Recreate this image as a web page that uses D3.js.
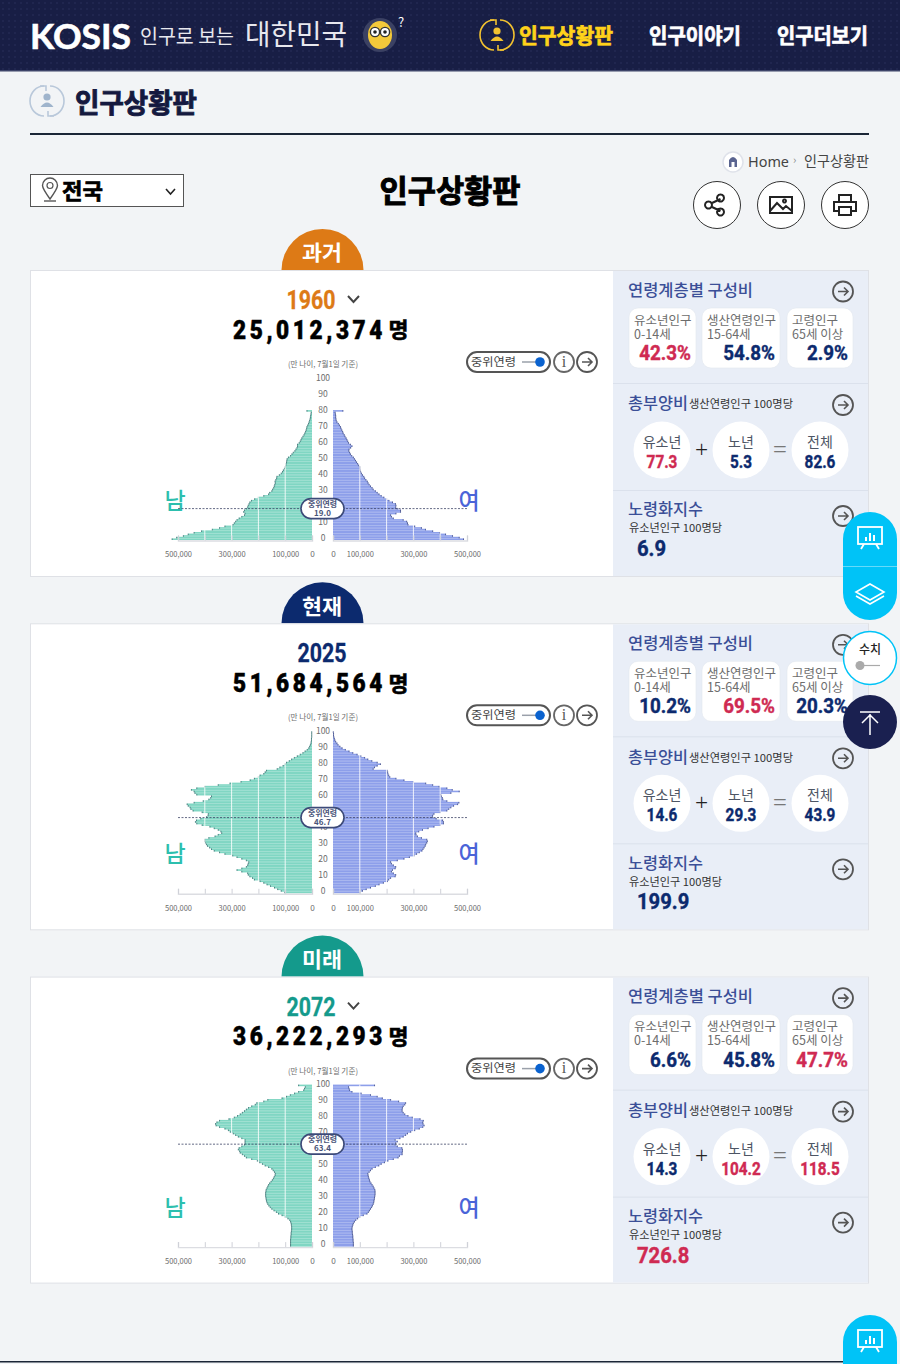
<!DOCTYPE html>
<html>
<head>
<meta charset="utf-8">
<script src="https://cdn.jsdelivr.net/npm/d3@7"></script>
<style>
  html, body { margin: 0; padding: 0; background: #f2f4f6; }
  svg { display: block; font-family: 'Noto Sans CJK KR', 'Noto Sans', sans-serif; }
</style>
</head>
<body>
<svg id="page" width="900" height="1364"></svg>
<script>
// values
const eras = ['과거', '현재', '미래']
const years = ['1960', '2025', '2072']
const totals = ['25,012,374', '51,684,564', '36,222,293']
const medianAges = [19.0, 46.7, 63.4]
const ageBands = ['유소년인구', '생산연령인구', '고령인구']
const ageRanges = ['0-14세', '15-64세', '65세 이상']
const bandShares = [[42.3, 54.8, 2.9], [10.2, 69.5, 20.3], [6.6, 45.8, 47.7]]
const bandAlerts = [[true, false, false], [false, true, false], [false, false, true]]
const depLabels = ['유소년', '노년', '전체']
const depRatios = [[77.3, 5.3, 82.6], [14.6, 29.3, 43.9], [14.3, 104.2, 118.5]]
const depAlerts = [[true, false, false], [false, false, false], [false, true, true]]
const agingIndex = [6.9, 199.9, 726.8]
const agingAlerts = [false, false, true]
const ageTicks = [0, 10, 20, 30, 40, 50, 60, 70, 80, 90, 100]
const popTicks = [0, 100000, 200000, 300000, 400000, 500000]
const popLabels = [0, 100000, 300000, 500000]

// population by single year of age, in thousands
const male1960 = [522,505,480,462,440,412,372,345,325,295,290,285,280,272,262,252,250,255,252,245,240,238,235,232,226,214,200,180,162,158,150,147,143,141,139,137,138,135,132,131,122,115,110,107,103,100,98,97,95,94,93,88,80,75,70,64,60,56,54,54,48,44,41,38,34,30,27,24,22,20,19,16,13,11,9,7,6,5,4,3,19]
const female1960 = [487,471,446,420,398,372,345,330,305,280,278,275,262,225,218,215,235,252,252,240,234,235,233,222,209,200,190,180,172,165,158,150,146,140,135,131,128,123,118,115,110,106,103,101,100,100,96,92,88,84,80,76,70,65,62,59,60,66,71,65,58,55,52,49,45,42,38,36,33,30,28,24,20,15,12,11,10,10,9,8,37]
const male2025 = [102,115,128,140,155,168,180,194,215,222,232,238,240,262,280,262,245,240,238,236,245,262,280,296,325,345,365,375,382,390,394,398,400,400,385,362,350,337,340,350,365,381,410,430,435,431,415,394,388,387,410,444,452,455,462,466,440,406,385,378,375,430,437,440,450,430,400,350,306,265,231,215,200,194,180,175,170,130,120,108,100,95,85,76,66,55,44,34,26,18,12,9,6,4,3,2,2,1,1,1,1]
const female2025 = [100,110,124,140,158,172,188,203,208,215,232,234,225,218,222,232,234,225,218,215,240,265,285,302,312,322,332,336,340,344,346,350,352,350,330,315,310,309,320,334,355,377,400,412,412,409,385,371,372,377,400,425,432,440,450,465,470,425,410,408,404,402,440,471,445,425,396,372,346,300,265,235,212,208,205,204,202,150,155,165,177,165,145,130,118,104,90,74,60,46,34,26,19,15,10,7,5,3,2,2,1]
const male2072 = [80,80,80,80,80,79,79,78,78,77,76,76,76,77,78,80,83,90,100,112,125,133,142,150,156,161,165,168,170,171,172,173,173,173,172,171,168,165,162,158,153,148,144,141,138,137,140,145,150,162,175,185,195,204,225,245,252,260,268,270,275,272,262,252,250,250,250,262,275,285,294,305,312,325,345,358,360,355,345,310,290,278,268,260,252,245,237,225,212,206,180,165,112,95,81,65,50,31,28,25,50]
const female2072 = [76,76,76,75,75,74,74,73,72,72,71,71,72,74,76,80,85,92,100,113,127,132,136,140,144,147,150,152,153,154,155,156,157,157,157,156,153,150,146,142,138,136,134,132,131,130,135,140,146,158,171,180,192,205,225,243,248,258,258,259,259,257,240,232,234,240,232,250,262,271,278,290,305,322,335,340,336,335,337,325,296,280,268,262,258,258,259,262,268,271,245,215,184,165,140,105,71,62,60,58,155]
const maleSeries = [male1960, male2025, male2072]
const femaleSeries = [female1960, female2025, female2072]

const eraColors = ['#dd7a16', '#0c2a6e', '#149a8c']
const navy = '#0c2a6e', red = '#cf2a52', titleBlue = '#3b4f97', gray = '#6d6d6d'
const kr = "'Noto Sans CJK KR', sans-serif"
const digits = "'Roboto', 'Liberation Sans', sans-serif"

const svg = d3.select('#page')

// helper: real text, optionally squeezed to a measured width
function label(g, x, y, text, o = {}) {
  const size = o.size || 12
  const t = g
    .append('text')
    .attr('x', x)
    .attr('y', y + size * 0.12)
    .attr('fill', o.fill || '#222')
    .attr('font-size', size)
    .attr('font-weight', o.weight || 400)
    .attr('font-family', o.font || kr)
    .attr('text-anchor', o.anchor || 'start')
    .attr('dominant-baseline', 'middle')
    .text(text)
  if (o.spacing) t.attr('letter-spacing', o.spacing)
  if (o.fat) t.attr('stroke', o.fill || '#222').attr('stroke-width', o.fat)
  if (o.width) t.attr('textLength', o.width).attr('lengthAdjust', 'spacingAndGlyphs')
  if (o.squeeze) t.attr('textLength', t.node().getComputedTextLength() * o.squeeze).attr('lengthAdjust', 'spacingAndGlyphs')
  return t
}

function arrowButton(g, cx, cy, r = 10) {
  const b = g.append('g').attr('transform', `translate(${cx},${cy})`)
  b.append('circle').attr('r', r).attr('fill', 'none').attr('stroke', '#555').attr('stroke-width', 1.8)
  b.append('path')
    .attr('d', 'M-5,0H5M1,-4L5,0L1,4')
    .attr('fill', 'none')
    .attr('stroke', '#555')
    .attr('stroke-width', 1.6)
}

// --------------------------------------------------------------
// Header
svg.append('rect').attr('width', 900).attr('height', 1364).attr('fill', '#f2f4f6')
svg.append('rect').attr('width', 900).attr('height', 71).attr('fill', '#181e45')
const dots = svg.append('defs').append('pattern').attr('id', 'headDots').attr('width', 6).attr('height', 6).attr('patternUnits', 'userSpaceOnUse')
dots.append('circle').attr('cx', 3).attr('cy', 3).attr('r', 0.7).attr('fill', '#2d3461')
svg.append('rect').attr('width', 900).attr('height', 70).attr('fill', 'url(#headDots)')
svg.append('rect').attr('y', 70).attr('width', 900).attr('height', 1.5).attr('fill', '#3d4468')

label(svg, 30, 36, 'KOSIS', { size: 35, weight: 700, fill: '#fff', font: 'Lato, sans-serif', width: 101, fat: 0.6 })
label(svg, 140, 36, '인구로 보는', { size: 20, fill: '#e8e8ee', width: 94 })
label(svg, 245, 34, '대한민국', { size: 28, fill: '#e8e8ee', width: 102 })

const owl = svg.append('g').attr('transform', 'translate(380,35)')
owl.append('circle').attr('r', 17).attr('fill', '#3b4163')
owl.append('ellipse').attr('rx', 12).attr('ry', 14).attr('fill', '#f4c93a')
owl.selectAll('circle.eye').data([-5, 5]).join('circle').attr('class', 'eye')
  .attr('cx', (d) => d).attr('cy', -3).attr('r', 4.6).attr('fill', '#fff').attr('stroke', '#333').attr('stroke-width', 1.4)
owl.selectAll('circle.pupil').data([-5, 5]).join('circle').attr('class', 'pupil')
  .attr('cx', (d) => d).attr('cy', -3).attr('r', 1.8).attr('fill', '#222')
label(svg, 398, 22, '?', { size: 13, fill: '#fff' })

function personCycle(g, cx, cy, color, body) {
  const p = g.append('g').attr('transform', `translate(${cx},${cy})`)
  p.append('path').attr('d', 'M-3,-15A14,15 0 0,0 -3,15').attr('fill', 'none').attr('stroke', color).attr('stroke-width', 1.6)
  p.append('path').attr('d', 'M3,15A14,15 0 0,0 3,-15').attr('fill', 'none').attr('stroke', color).attr('stroke-width', 1.6)
  p.append('path').attr('d', 'M-7,-15H-1V-10M7,15H1V10').attr('fill', 'none').attr('stroke', color).attr('stroke-width', 1.6)
  p.append('circle').attr('cy', -4).attr('r', 3.6).attr('fill', body)
  p.append('path').attr('d', 'M-6.5,6Q0,-3 6.5,6Z').attr('fill', body)
}
personCycle(svg, 497, 35, '#f2c230', '#f2c230')
label(svg, 519, 35, '인구상황판', { size: 21, weight: 700, fill: '#ffd21a', width: 94, fat: 0.7 })
label(svg, 649, 35, '인구이야기', { size: 21, weight: 700, fill: '#fff', width: 92, fat: 0.7 })
label(svg, 777, 35, '인구더보기', { size: 21, weight: 700, fill: '#fff', width: 91, fat: 0.7 })

// --------------------------------------------------------------
// Page heading and tools
personCycle(svg, 47, 101, '#b9c8da', '#9fb4cc')
label(svg, 75, 102, '인구상황판', { size: 27, weight: 700, fill: '#14193f', width: 122, fat: 0.9 })
svg.append('rect').attr('x', 30).attr('y', 133).attr('width', 839).attr('height', 2).attr('fill', '#1b2636')

svg.append('circle').attr('cx', 733).attr('cy', 162).attr('r', 10).attr('fill', '#fff').attr('stroke', '#dfe2ea').attr('stroke-width', 1.5)
svg.append('path').attr('d', 'M729,167V160Q733,154 737,160V167H734.5V162H731.5V167Z').attr('fill', '#5a6490')
label(svg, 748, 161, 'Home', { size: 14.5, fill: '#444', font: "'Noto Sans', sans-serif", width: 41 })
label(svg, 793, 160, '›', { size: 11, fill: '#888' })
label(svg, 804, 161, '인구상황판', { size: 14, fill: '#444', width: 65 })

svg.append('rect').attr('x', 30.5).attr('y', 174.5).attr('width', 153).attr('height', 32).attr('fill', '#fff').attr('stroke', '#555')
svg.append('path').attr('d', 'M50,199C45,192 42.5,188 42.5,185.5A7.5,7.5 0 0,1 57.5,185.5C57.5,188 55,192 50,199Z').attr('fill', 'none').attr('stroke', '#555').attr('stroke-width', 1.4)
svg.append('circle').attr('cx', 50).attr('cy', 185.5).attr('r', 3).attr('fill', 'none').attr('stroke', '#555').attr('stroke-width', 1.2)
svg.append('path').attr('d', 'M44,201H56').attr('stroke', '#555').attr('stroke-width', 1.4)
label(svg, 62, 190, '전국', { size: 22, weight: 700, fill: '#000', width: 41, fat: 0.7 })
svg.append('path').attr('d', 'M166,189L170.5,194L175,189').attr('fill', 'none').attr('stroke', '#222').attr('stroke-width', 1.6)

label(svg, 450, 190, '인구상황판', { size: 31, weight: 700, fill: '#000', anchor: 'middle', width: 141, fat: 1 })

const toolIcons = [
  'M-5,0A3.5,3.5 0 1,0 -5,0.01M7,-7A3.5,3.5 0 1,0 7,-6.99M7,7A3.5,3.5 0 1,0 7,7.01M-5,-2L3.5,-6M-5,2L3.5,6',
  'M-11,-8H11V8H-11ZM-11,6L-4,-2L2,4L5,1L11,6M5,-4A1.5,1.5 0 1,0 5,-3.99',
  'M-6,-3V-10H6V-3M-6,6H-11V-3H11V6H6M-6,2H6V10H-6Z',
]
svg.append('g').selectAll('g').data(toolIcons).join('g')
  .attr('transform', (d, i) => `translate(${717 + i * 64},205)`)
  .call((g) => g.append('circle').attr('r', 23.5).attr('fill', '#fff').attr('stroke', '#333'))
  .call((g) => g.append('path').attr('d', (d) => d).attr('fill', 'none').attr('stroke', '#222').attr('stroke-width', 2))

// --------------------------------------------------------------
// One panel: population pyramid on the left, indicators on the right
const maleX = d3.scaleLinear().domain([0, 500000]).range([312, 178])
const femaleX = d3.scaleLinear().domain([0, 500000]).range([333, 467])
const ageY = d3.scaleBand().domain(d3.range(0, 101)).range([270, 108]) // panel coordinates
const ageTickY = d3.scaleLinear().domain([0, 100]).range([267.5, 107.5])

function pyramidSide(g, series, x, fill, edge, isMale) {
  const rows = series.map((v, age) => ({ age, pop: v * 1000 }))
  const y0 = x(0)
  g.append('g').selectAll('rect').data(rows).join('rect')
    .attr('x', (d) => (isMale ? x(d.pop) : y0))
    .attr('y', (d) => ageY(d.age))
    .attr('width', (d) => Math.abs(x(d.pop) - y0))
    .attr('height', ageY.bandwidth())
    .attr('fill', fill)
  // dark cap at the end of each bar
  g.append('g').selectAll('rect').data(rows).join('rect')
    .attr('x', (d) => x(d.pop) - 0.5)
    .attr('y', (d) => ageY(d.age))
    .attr('width', 1)
    .attr('height', ageY.bandwidth())
    .attr('fill', edge)
    .attr('opacity', 0.75)
  // white grid over the bars
  g.append('g').selectAll('line').data(popTicks.slice(1, 5)).join('line')
    .attr('x1', x).attr('x2', x).attr('y1', ageY(100)).attr('y2', ageY(0) + ageY.bandwidth())
    .attr('stroke', '#fff').attr('stroke-width', 1).attr('stroke-opacity', 0.85)

  const axis = d3.axisBottom(x).tickValues(popTicks).tickSize(-5).tickPadding(11)
    .tickFormat((d) => (popLabels.includes(d) ? d3.format(',')(d) : ''))
  const ag = g.append('g').attr('transform', 'translate(0,270.5)').call(axis)
  ag.select('.domain').attr('stroke', '#dcdde2').attr('stroke-width', 1.4)
  ag.selectAll('.tick line').attr('stroke', '#cfd1d8')
  ag.selectAll('text').attr('fill', gray).attr('font-size', 8.2).attr('font-family', kr)
    .each(function (d) {
      if (d > 0) d3.select(this).attr('textLength', 27).attr('lengthAdjust', 'spacingAndGlyphs')
    })
}

function drawPanel(i, top) {
  const g = svg.append('g').attr('transform', `translate(0,${top})`)
  const color = eraColors[i]

  // era tab
  g.append('path').attr('d', 'M281.5,0A41,41 0 0,1 363.5,0Z').attr('fill', color)
  label(g, 322, -18, eras[i], { size: 21, weight: 700, fill: '#fff', anchor: 'middle', width: 40 })

  // panel frame
  g.append('rect').attr('x', 30.5).attr('y', 0.5).attr('width', 838).attr('height', 306).attr('fill', '#fff').attr('stroke', '#dfe1e6')
  g.append('rect').attr('x', 613).attr('y', 1).attr('width', 255).attr('height', 305).attr('fill', '#e9eef7')
  g.selectAll('rect.sep').data([113, 220]).join('rect').attr('class', 'sep')
    .attr('x', 613).attr('y', (d) => d).attr('width', 255).attr('height', 1).attr('fill', '#dbe1ec')

  // year and total
  const hasChevron = i !== 1
  label(g, hasChevron ? 311 : 322, 29.5, years[i], { size: 25, weight: 700, fill: color, anchor: 'middle', width: 49, font: digits, fat: 0.3 })
  if (hasChevron) {
    g.append('path').attr('d', 'M348,26L353.5,32L359,26').attr('fill', 'none').attr('stroke', '#444').attr('stroke-width', 2)
  }
  label(g, 233, 59, totals[i], { size: 25, weight: 900, fill: '#000', width: 153, font: digits, fat: 0.5, spacing: 4 })
  label(g, 388.5, 59, '명', { size: 21, weight: 700, fill: '#000', width: 20, fat: 0.6 })

  label(g, 323, 94, '(만 나이, 7월1일 기준)', { size: 8, fill: gray, anchor: 'middle', width: 70 })

  // median toggle
  g.append('rect').attr('x', 467).attr('y', 82).attr('width', 83).attr('height', 20).attr('rx', 10).attr('fill', '#fff').attr('stroke', '#555').attr('stroke-width', 2)
  label(g, 471, 91, '중위연령', { size: 11.5, fill: '#444', width: 45 })
  g.append('path').attr('d', 'M522,92H536').attr('stroke', '#9aa0aa').attr('stroke-width', 1.5)
  g.append('circle').attr('cx', 540).attr('cy', 92).attr('r', 4.8).attr('fill', '#0a62cf')
  g.append('circle').attr('cx', 564).attr('cy', 92).attr('r', 10).attr('fill', 'none').attr('stroke', '#666').attr('stroke-width', 1.8)
  label(g, 564, 91, 'i', { size: 16, fill: '#555', anchor: 'middle', font: 'Liberation Serif, serif' })
  arrowButton(g, 587, 92)

  // pyramid
  pyramidSide(g, maleSeries[i], maleX, '#80d6c3', '#2a5f63', true)
  pyramidSide(g, femaleSeries[i], femaleX, '#8d9fea', '#2c3a78', false)

  // median marker position; age labels fully behind the pill are not shown
  const medY = ageTickY(medianAges[i]) + 1.5
  g.append('g').selectAll('text').data(ageTicks.filter((d) => Math.abs(ageTickY(d) - medY) > 9)).join('text')
    .attr('x', 323).attr('y', (d) => ageTickY(d) + 1)
    .attr('text-anchor', 'middle').attr('dominant-baseline', 'middle')
    .attr('font-size', 8.5).attr('fill', gray).text((d) => d)

  label(g, 175, 230, '남', { size: 23, fill: '#2dbfae', anchor: 'middle', weight: 500 })
  label(g, 469, 230, '여', { size: 23, fill: '#4a64d8', anchor: 'middle', weight: 500 })

  g.append('line').attr('x1', 178).attr('x2', 467).attr('y1', medY).attr('y2', medY)
    .attr('stroke', '#3c4466').attr('stroke-width', 0.8).attr('stroke-dasharray', '2,1.5')
  g.append('rect').attr('x', 301).attr('y', medY - 10).attr('width', 43).attr('height', 20).attr('rx', 10)
    .attr('fill', '#fff').attr('stroke', '#3c4a78').attr('stroke-width', 1.6)
  label(g, 322.5, medY - 5, '중위연령', { size: 7.5, weight: 700, fill: '#4a5478', anchor: 'middle', width: 29 })
  label(g, 322.5, medY + 4, medianAges[i].toFixed(1), { size: 8, weight: 700, fill: '#4a5478', anchor: 'middle' })

  // age band shares
  label(g, 628, 19.5, '연령계층별 구성비', { size: 16, weight: 500, fill: titleBlue, width: 125 })
  arrowButton(g, 843, 21.5)
  const cards = [[629, 67], [702, 78], [787, 66]]
  cards.forEach(([cx, cw], k) => {
    g.append('rect').attr('x', cx).attr('y', 38).attr('width', cw).attr('height', 60).attr('rx', 9).attr('fill', '#fff').attr('stroke', '#e3e7ef').attr('stroke-width', 0.6)
    label(g, cx + 5, 50, ageBands[k], { size: 12.5, fill: gray })
    label(g, cx + 5, 64, ageRanges[k], { size: 12.5, fill: gray })
    label(g, cx + cw - 5, 82.5, bandShares[i][k].toFixed(1) + '%', {
      size: 20, weight: 700, anchor: 'end', font: digits,
      fill: bandAlerts[i][k] ? red : navy, fat: 0.4, squeeze: 0.94,
    })
  })

  // dependency ratio
  label(g, 628, 133, '총부양비', { size: 16, weight: 500, fill: titleBlue, width: 60 })
  label(g, 689, 134, '생산연령인구 100명당', { size: 11, fill: '#333', width: 104 })
  arrowButton(g, 843, 135)
  const depX = d3.scalePoint().domain(d3.range(3)).range([662, 820])
  depLabels.forEach((name, k) => {
    g.append('circle').attr('cx', depX(k)).attr('cy', 180).attr('r', 28.5).attr('fill', '#fff')
    label(g, depX(k), 171.5, name, { size: 14, fill: '#4d5564', anchor: 'middle' })
    label(g, depX(k), 191, depRatios[i][k].toFixed(1), {
      size: 18, weight: 700, anchor: 'middle', font: digits,
      fill: depAlerts[i][k] ? red : navy, fat: 0.4, squeeze: 0.85,
    })
  })
  label(g, 701.5, 179, '+', { size: 23, fill: '#222', anchor: 'middle', font: "'Noto Sans', sans-serif", weight: 300 })
  label(g, 780, 178, '=', { size: 25, fill: '#777', anchor: 'middle', font: "'Noto Sans', sans-serif", weight: 300 })

  // aging index
  label(g, 628, 239, '노령화지수', { size: 16, weight: 500, fill: titleBlue, width: 75 })
  label(g, 629, 258, '유소년인구 100명당', { size: 11, fill: '#333', width: 93 })
  arrowButton(g, 843, 246)
  label(g, 637, 277.5, agingIndex[i].toFixed(1), {
    size: 22, weight: 700, font: digits,
    fill: agingAlerts[i] ? red : navy, fat: 0.4, squeeze: 0.92,
  })
}

const panelTops = [270, 623.3, 976.6]
panelTops.forEach((top, i) => drawPanel(i, top))

// --------------------------------------------------------------
// Floating widgets
const cyan = '#00c3f7'
function boardIcon(g, cx, cy) {
  const b = g.append('g').attr('transform', `translate(${cx},${cy})`)
  b.append('rect').attr('x', -12).attr('y', -11).attr('width', 24).attr('height', 17).attr('fill', 'none').attr('stroke', '#fff').attr('stroke-width', 1.8)
  b.append('path').attr('d', 'M-4,3V-1M0,3V-5M4,3V-3').attr('stroke', '#fff').attr('stroke-width', 2)
  b.append('path').attr('d', 'M-9,11L-6,6M9,11L6,6').attr('stroke', '#fff').attr('stroke-width', 1.8)
}
svg.append('rect').attr('x', 843).attr('y', 512).attr('width', 54).attr('height', 108).attr('rx', 27).attr('fill', cyan)
svg.append('rect').attr('x', 843).attr('y', 566).attr('width', 54).attr('height', 0.8).attr('fill', '#7fe0fb')
boardIcon(svg, 870, 538)
svg.append('path').attr('d', 'M870,584L884,592L870,600L856,592ZM856,596L870,604L884,596').attr('fill', 'none').attr('stroke', '#fff').attr('stroke-width', 1.6)

svg.append('circle').attr('cx', 870).attr('cy', 658).attr('r', 26.5).attr('fill', '#fff').attr('stroke', cyan).attr('stroke-width', 1.5)
label(svg, 870, 649, '수치', { size: 12, weight: 500, fill: '#222', anchor: 'middle' })
svg.append('path').attr('d', 'M860,665.5H880').attr('stroke', '#aaa').attr('stroke-width', 1.2)
svg.append('circle').attr('cx', 860).attr('cy', 665.5).attr('r', 4.5).attr('fill', '#aaa')

svg.append('circle').attr('cx', 870).attr('cy', 722).attr('r', 27).attr('fill', '#1a2050')
svg.append('path').attr('d', 'M860,712H880M870,735V714M862,723L870,715L878,723').attr('fill', 'none').attr('stroke', '#fff').attr('stroke-width', 1.5)

svg.append('path').attr('d', 'M843,1364V1342A27,27 0 0,1 897,1342V1364Z').attr('fill', cyan)
boardIcon(svg, 870, 1341)
svg.append('rect').attr('y', 1361).attr('width', 843).attr('height', 1.5).attr('fill', '#1b2636')
</script>
</body>
</html>
